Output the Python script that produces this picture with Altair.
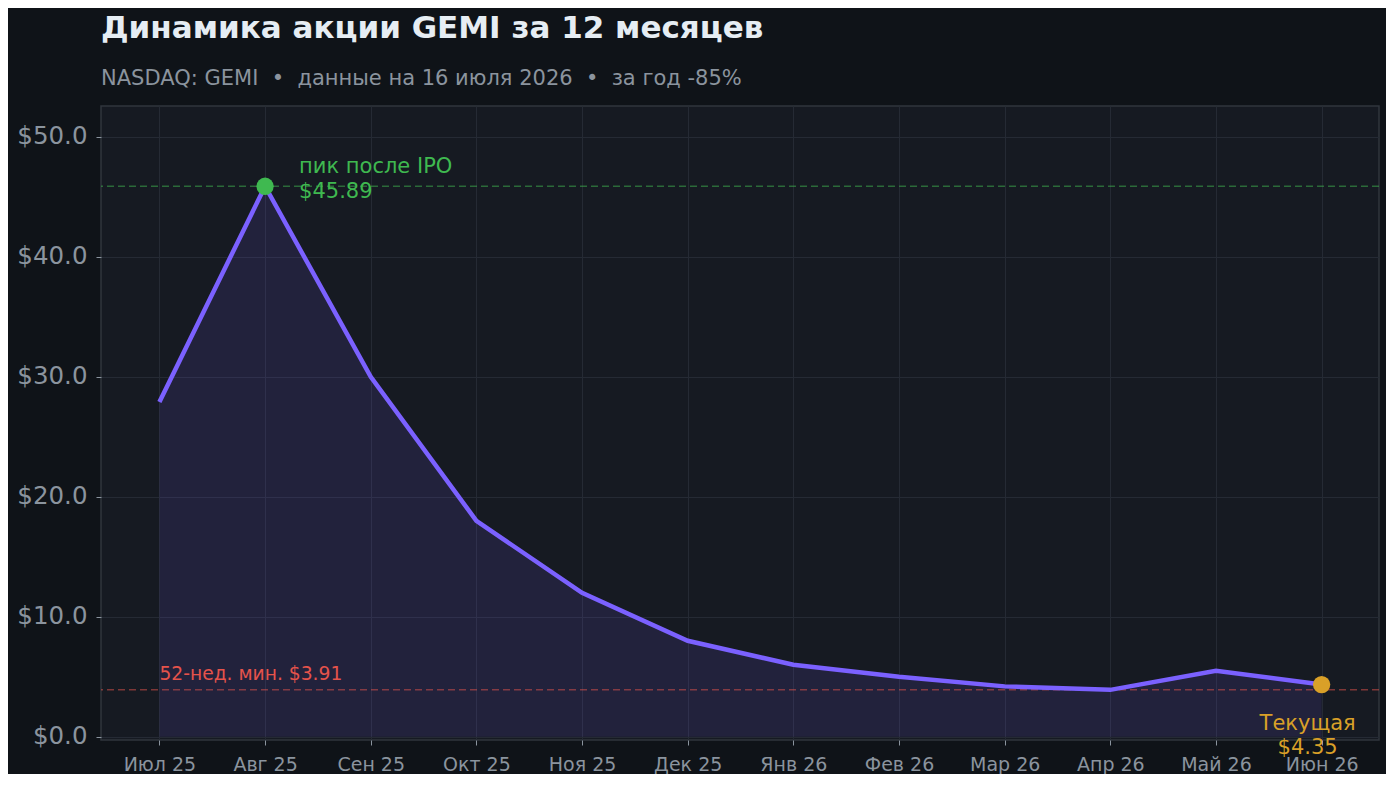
import altair as alt
import pandas as pd

months = ["Июл 25", "Авг 25", "Сен 25", "Окт 25", "Ноя 25", "Дек 25",
          "Янв 26", "Фев 26", "Мар 26", "Апр 26", "Май 26", "Июн 26"]
prices = [27.9, 45.89, 30.0, 18.0, 12.0, 8.0, 6.0, 5.0, 4.2, 3.91, 5.5, 4.35]
peak_value = 45.89
low_value = 3.91
current_value = 4.35

BG = "#0f1318"
PLOT_BG = "#161a22"
GRID = "#252a34"
PURPLE = "#7b61ff"
GREEN = "#3fb950"
RED = "#e5534b"
ORANGE = "#d9a028"
MUTED = "#8b949e"
FONT = "DejaVu Sans"
NB = "\u00a0"

df = pd.DataFrame({"i": list(range(len(months))), "price": prices, "month": months})
peak_i = prices.index(peak_value)
last_i = len(months) - 1

x_scale = alt.Scale(domain=[-0.553, 11.543], nice=False, zero=False)
y_scale = alt.Scale(domain=[-0.27, 52.58], nice=False, zero=False)

label_arr = "[" + ",".join("'" + m + "'" for m in months) + "]"

x_enc = alt.X("i:Q", scale=x_scale, title=None,
              axis=alt.Axis(values=list(range(len(months))), labelExpr=label_arr + "[datum.value]",
                            grid=True, gridColor=GRID, domain=False, tickColor=MUTED, tickSize=5,
                            labelColor=MUTED, labelFontSize=19, labelPadding=10, labelFont=FONT))
y_enc = alt.Y("price:Q", scale=y_scale, title=None,
              axis=alt.Axis(values=[0, 10, 20, 30, 40, 50], format="$.1f",
                            grid=True, gridColor=GRID, domain=False, tickColor=MUTED, tickSize=5,
                            labelColor=MUTED, labelFontSize=24.5, labelPadding=9, labelFont=FONT))

base = alt.Chart(df)

area = base.mark_area(color=PURPLE, opacity=0.12).encode(x=x_enc, y=y_enc, y2=alt.datum(0))
line = base.mark_line(color=PURPLE, strokeWidth=4.5).encode(x="i:Q", y="price:Q")

peak_rule = alt.Chart(pd.DataFrame({"v": [peak_value]})).mark_rule(
    color=GREEN, strokeDash=[7, 4], strokeWidth=1.5, opacity=0.5).encode(y="v:Q")
low_rule = alt.Chart(pd.DataFrame({"v": [low_value]})).mark_rule(
    color=RED, strokeDash=[7, 4], strokeWidth=1.5, opacity=0.5).encode(y="v:Q")

peak_df = pd.DataFrame({"i": [peak_i], "price": [peak_value]})
cur_df = pd.DataFrame({"i": [last_i], "price": [current_value]})

peak_pt = alt.Chart(peak_df).mark_circle(color=GREEN, size=300, opacity=1).encode(x="i:Q", y="price:Q")
cur_pt = alt.Chart(cur_df).mark_circle(color=ORANGE, size=300, opacity=1).encode(x="i:Q", y="price:Q")

peak_txt = alt.Chart(peak_df).mark_text(
    color=GREEN, align="left", baseline="middle", dx=34, dy=-19, fontSize=21,
    lineHeight=25, font=FONT).encode(
    x="i:Q", y="price:Q",
    text=alt.value(["пик после IPO", "$" + format(peak_value, ".2f")]))

low_df = pd.DataFrame({"i": [0], "price": [low_value]})
low_txt = alt.Chart(low_df).mark_text(
    color=RED, align="left", baseline="bottom", dy=-6, fontSize=18.7, font=FONT).encode(
    x="i:Q", y="price:Q", text=alt.value("52-нед. мин. $" + format(low_value, ".2f")))

cur_txt = alt.Chart(cur_df).mark_text(
    color=ORANGE, align="center", baseline="middle", dx=-14, dy=39, fontSize=21,
    lineHeight=24.5, font=FONT).encode(
    x="i:Q", y="price:Q",
    text=alt.value(["Текущая", "$" + format(current_value, ".2f")]))

subtitle = f"NASDAQ: GEMI {NB}•{NB} данные на 16 июля 2026 {NB}•{NB} за год -85%"

chart = alt.layer(area, peak_rule, low_rule, line, peak_pt, cur_pt, peak_txt, low_txt, cur_txt).properties(
    width=1278, height=634,
    background=BG,
    padding={"left": 8, "top": 5, "right": 6, "bottom": 0},
    title=alt.Title(
        "Динамика акции GEMI за 12 месяцев",
        subtitle=subtitle,
        anchor="start", frame="group", fontSize=31, fontWeight="bold", color="#e6edf3", font=FONT,
        subtitleFontSize=21, subtitleColor=MUTED, subtitleFont=FONT,
        subtitlePadding=23, offset=16),
).configure_view(fill=PLOT_BG, stroke="#30363d", strokeWidth=1.5)

chart.save("out.html", embed_options={"renderer": "svg", "actions": False})
